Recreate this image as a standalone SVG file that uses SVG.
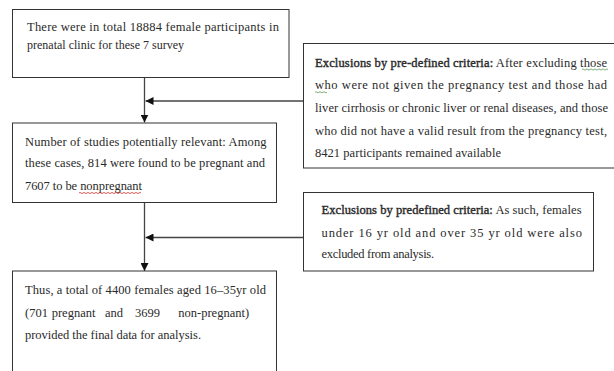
<svg xmlns="http://www.w3.org/2000/svg" width="614" height="371" viewBox="0 0 614 371">
<style>
.box{fill:#fff;stroke:#333;stroke-width:1}
.t{font-family:"Liberation Serif","Times New Roman",serif;font-size:12.5px;fill:#2a2a2a}
.b{stroke:#2a2a2a;stroke-width:0.4}
.con{stroke:#444;stroke-width:1.3;fill:none}
.sq{fill:none;stroke-width:0.8}
</style>
<defs>
<marker id="ah" markerWidth="8" markerHeight="8" refX="8" refY="4" orient="auto" markerUnits="userSpaceOnUse">
<path d="M0,0 L8,4 L0,8 Z" fill="#111"/>
</marker>
</defs>
<rect width="614" height="371" fill="#fff"/>
<g id="connectors">
<line class="con" x1="144.5" y1="77.5" x2="144.5" y2="122.5" marker-end="url(#ah)"/>
<line class="con" x1="303.5" y1="101" x2="145.5" y2="101" marker-end="url(#ah)"/>
<line class="con" x1="144.5" y1="192" x2="144.5" y2="271" marker-end="url(#ah)"/>
<line class="con" x1="303.5" y1="237.5" x2="145.5" y2="237.5" marker-end="url(#ah)"/>
</g>
<g id="n1">
<rect class="box" x="12.5" y="9.5" width="276.5" height="68"/>
<text class="t" x="27" y="30.5" textLength="252" lengthAdjust="spacing">There were in total 18884 female participants in</text>
<text class="t" x="27" y="49" textLength="157" lengthAdjust="spacingAndGlyphs">prenatal clinic for these 7 survey</text>
</g>
<g id="n2">
<rect class="box" x="303.5" y="43.5" width="320" height="124.5"/>
<text class="t" x="315" y="66.5" textLength="292" lengthAdjust="spacing"><tspan class="b">Exclusions by pre-defined criteria:</tspan> After excluding those</text>
<text class="t" x="315" y="89.3" textLength="292" lengthAdjust="spacing">who were not given the pregnancy test and those had</text>
<text class="t" x="315" y="112" textLength="293" lengthAdjust="spacing">liver cirrhosis or chronic liver or renal diseases, and those</text>
<text class="t" x="315" y="134.7" textLength="292" lengthAdjust="spacing">who did not have a valid result from the pregnancy test,</text>
<text class="t" x="315" y="157.3" textLength="186" lengthAdjust="spacing">8421 participants remained available</text>
<path class="sq" stroke="#5a9a5a" d="M582,69.5 q1,-1.2 2,0 t2,0 t2,0 t2,0 t2,0 t2,0 t2,0 t2,0 t2,0 t2,0 t2,0 t2,0 t2,0"/>
<path class="sq" stroke="#5a9a5a" d="M315,92.3 q1,-1.2 2,0 t2,0 t2,0 t2,0 t2,0 t2,0"/>
</g>
<g id="n3">
<rect class="box" x="12.5" y="123" width="264" height="79.5"/>
<text class="t" x="25" y="146" textLength="241.5" lengthAdjust="spacing">Number of studies potentially relevant: Among</text>
<text class="t" x="25" y="167.3" textLength="240" lengthAdjust="spacing">these cases, 814 were found to be pregnant and</text>
<text class="t" x="25" y="190" textLength="117" lengthAdjust="spacing">7607 to be nonpregnant</text>
<path class="sq" stroke="#d23030" d="M79,193 q1,-1.2 2,0 t2,0 t2,0 t2,0 t2,0 t2,0 t2,0 t2,0 t2,0 t2,0 t2,0 t2,0 t2,0 t2,0 t2,0 t2,0 t2,0 t2,0 t2,0 t2,0 t2,0 t2,0 t2,0 t2,0 t2,0 t2,0 t2,0 t2,0 t2,0 t2,0 t2,0"/>
</g>
<g id="n4">
<rect class="box" x="303.5" y="192.5" width="290" height="78.5"/>
<text class="t" x="321.5" y="213.7" textLength="260" lengthAdjust="spacing"><tspan class="b">Exclusions by predefined criteria:</tspan> As such, females</text>
<text class="t" x="321.5" y="237" textLength="260.5" lengthAdjust="spacing">under 16 yr old and over 35 yr old were also</text>
<text class="t" x="321.5" y="258.3" textLength="112.5" lengthAdjust="spacing">excluded from analysis.</text>
</g>
<g id="n5">
<rect class="box" x="12.5" y="271" width="264" height="120"/>
<text class="t" x="25" y="294.3" textLength="241" lengthAdjust="spacing">Thus, a total of 4400 females aged 16–35yr old</text>
<text class="t" y="316.7"><tspan x="25">(701</tspan> <tspan x="51.7">pregnant</tspan> <tspan x="105">and</tspan> <tspan x="135">3699</tspan> <tspan x="178.3">non-pregnant)</tspan></text>
<text class="t" x="25" y="339" textLength="176" lengthAdjust="spacing">provided the final data for analysis.</text>
</g>
</svg>
